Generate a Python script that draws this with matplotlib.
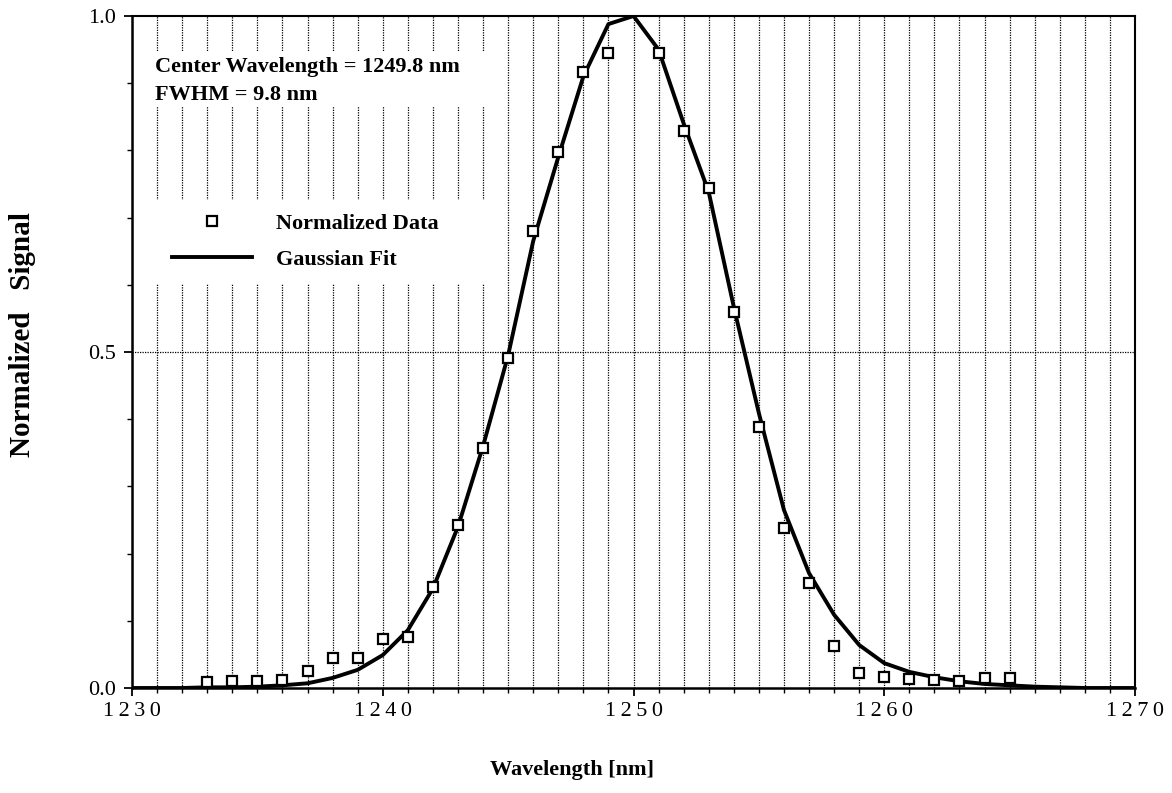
import matplotlib
matplotlib.use("Agg")
import matplotlib.pyplot as plt
from matplotlib.patches import Rectangle
from matplotlib.ticker import MultipleLocator

plt.rcParams['font.family'] = ['Liberation Serif', 'DejaVu Serif']

# measured points (normalized)
wavelength = [1233, 1234, 1235, 1236, 1237, 1238, 1239, 1240, 1241, 1242,
              1243, 1244, 1245, 1246, 1247, 1248, 1249, 1251, 1252, 1253,
              1254, 1255, 1256, 1257, 1258, 1259, 1260, 1261, 1262, 1263,
              1264, 1265]
signal = [0.009, 0.011, 0.011, 0.012, 0.026, 0.044, 0.044, 0.073, 0.076, 0.151,
          0.243, 0.357, 0.491, 0.680, 0.798, 0.917, 0.945, 0.945, 0.829, 0.744,
          0.560, 0.388, 0.238, 0.156, 0.062, 0.022, 0.017, 0.014, 0.012, 0.010,
          0.015, 0.015]

# fit curve, 1 nm steps
fit_wavelength = list(range(1230, 1271))
fit_signal = [0.0, 0.0, 0.0, 0.001, 0.001, 0.002, 0.004, 0.007, 0.015, 0.027,
              0.049, 0.086, 0.148, 0.240, 0.360, 0.495, 0.665, 0.790, 0.910, 0.988,
              1.000, 0.950, 0.840, 0.738, 0.567, 0.409, 0.265, 0.171, 0.109, 0.064,
              0.037, 0.024, 0.016, 0.010, 0.006, 0.004, 0.002, 0.001, 0.0, 0.0,
              0.0]

xtick_vals = [1230, 1240, 1250, 1260, 1270]
xtick_text = ['\u2009'.join(str(v)) for v in xtick_vals]
ytick_vals = [0.0, 0.5, 1.0]
ytick_text = ['0.0', '0.5', '1.0']

W, H = 1172, 793
fig = plt.figure(figsize=(W / 100, H / 100), dpi=100)
ax = fig.add_axes([132 / W, 1 - 688 / H, (1135 - 132) / W, (688 - 16) / H])

ax.set_xlim(1230, 1270)
ax.set_ylim(0, 1.0)

ax.set_xticks(xtick_vals)
ax.set_xticklabels(xtick_text)
ax.xaxis.set_minor_locator(MultipleLocator(1))
ax.set_yticks(ytick_vals)
ax.set_yticklabels(ytick_text)
ax.yaxis.set_minor_locator(MultipleLocator(0.1))
ax.tick_params(which='major', length=5.8, width=1.3, labelsize=16, pad=4)
ax.tick_params(which='minor', length=3.6, width=1.0)
ax.tick_params(axis='y', which='major', pad=6)

for side in ['left', 'bottom']:
    ax.spines[side].set_linewidth(1.8)
for side in ['top', 'right']:
    ax.spines[side].set_linewidth(1.5)

# dotted grid: every nm vertically, single line at 0.5
ax.set_axisbelow(True)
ax.grid(which='both', axis='x', linestyle=(0, (1, 1)), color='black', linewidth=0.9)
ax.axhline(0.5, linestyle=(0, (1, 1)), color='black', linewidth=0.9, zorder=0.5)

# white patches that blank the grid behind annotation and legend
ax.add_patch(Rectangle((8 / 1003, (688 - 107) / 672), 350 / 1003, 55 / 672,
                       transform=ax.transAxes, facecolor='white',
                       edgecolor='none', zorder=1))
ax.add_patch(Rectangle((8 / 1003, (688 - 284) / 672), 350 / 1003, 84 / 672,
                       transform=ax.transAxes, facecolor='white',
                       edgecolor='none', zorder=1))

ax.plot(fit_wavelength, fit_signal, color='black', linewidth=2.8,
        label='Gaussian Fit', zorder=3)
ax.plot(wavelength, signal, linestyle='none', marker='s', markersize=6.5,
        markerfacecolor='white', markeredgecolor='black', markeredgewidth=1.6,
        label='Normalized Data', zorder=4)

ax.text(23 / 1003, (688 - 72) / 672, 'Center Wavelength = 1249.8 nm',
        transform=ax.transAxes, fontsize=16, fontweight='bold',
        va='baseline', ha='left', zorder=5)
ax.text(23 / 1003, (688 - 100) / 672, 'FWHM = 9.8 nm',
        transform=ax.transAxes, fontsize=16, fontweight='bold',
        va='baseline', ha='left', zorder=5)

handles, labels = ax.get_legend_handles_labels()
leg = ax.legend(handles[::-1], labels[::-1], loc='upper left',
                bbox_to_anchor=(40 / 1003, (688 - 213) / 672),
                frameon=False, handlelength=3.6, handletextpad=1.1,
                labelspacing=0.7, borderpad=0, borderaxespad=0,
                numpoints=1, prop={'size': 16, 'weight': 'bold'})
leg.set_zorder(6)

fig.text(572 / W, 1 - 775 / H, 'Wavelength [nm]', fontsize=16,
         fontweight='bold', ha='center', va='baseline')
fig.text(23 / W, 1 - 335 / H, 'Normalized   Signal', fontsize=21,
         fontweight='bold', ha='center', va='center', rotation=90)

fig.savefig('out.png', dpi=100, facecolor='white')
